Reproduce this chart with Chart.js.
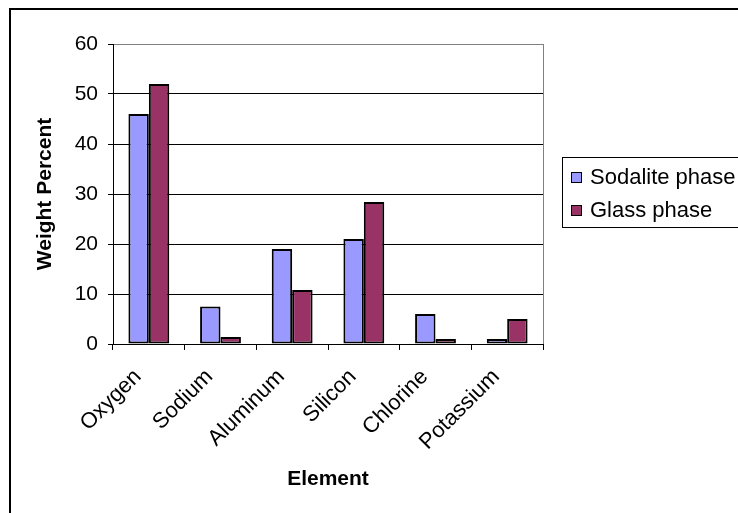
<!DOCTYPE html>
<html>
<head>
<meta charset="utf-8">
<script src="https://cdn.jsdelivr.net/npm/chart.js@4/dist/chart.umd.min.js"></script>
<style>
  html, body { margin: 0; padding: 0; background: #fff; }
  #wrap { width: 738px; height: 513px; position: relative; }
</style>
</head>
<body>
<div id="wrap"><canvas id="c" width="738" height="513"></canvas></div>
<script>
// Element composition (weight %) of the two phases
const elements = ['Oxygen', 'Sodium', 'Aluminum', 'Silicon', 'Chlorine', 'Potassium'];
const sodalitePhase = [46, 7.5, 19, 21, 6, 1];
const glassPhase = [52, 1.4, 10.8, 28.4, 1, 5];
const seriesNames = ['Sodalite phase', 'Glass phase'];
const seriesColors = ['#9999FF', '#993366'];
const yTicks = [0, 10, 20, 30, 40, 50, 60];

const FONT = '"Liberation Sans", Arial, sans-serif';

// Frame around the chart, gray plot-area edge and a boxed legend
const decorations = {
  id: 'decorations',
  afterDraw(chart) {
    const ctx = chart.ctx;
    const a = chart.chartArea;
    ctx.save();
    // plot area right edge
    ctx.strokeStyle = '#808080';
    ctx.lineWidth = 1;
    ctx.beginPath();
    ctx.moveTo(Math.round(a.right) + 0.5, a.top);
    ctx.lineTo(Math.round(a.right) + 0.5, a.bottom);
    ctx.stroke();

    // outer frame (left and top edges)
    ctx.fillStyle = '#000';
    ctx.fillRect(9, 8, 2, 505);
    ctx.fillRect(9, 8, 729, 2);

    // legend
    ctx.strokeStyle = '#000';
    ctx.lineWidth = 1;
    ctx.strokeRect(562.5, 157.5, 200, 70);
    ctx.font = '22px ' + FONT;
    ctx.textBaseline = 'middle';
    ctx.textAlign = 'left';
    chart.data.datasets.forEach((ds, i) => {
      const cy = 177 + i * 33;
      ctx.fillStyle = ds.backgroundColor;
      ctx.fillRect(571, cy - 5, 10, 10);
      ctx.strokeStyle = '#000';
      ctx.strokeRect(571.5, cy - 4.5, 10, 10);
      ctx.fillStyle = '#000';
      ctx.fillText(ds.label, 590, cy + 1);
    });
    ctx.restore();
  }
};

new Chart(document.getElementById('c'), {
  type: 'bar',
  data: {
    labels: elements,
    datasets: [
      { label: seriesNames[0], data: sodalitePhase, backgroundColor: seriesColors[0],
        borderColor: '#000', borderWidth: 2, borderSkipped: false },
      { label: seriesNames[1], data: glassPhase, backgroundColor: seriesColors[1],
        borderColor: '#000', borderWidth: 2, borderSkipped: false }
    ]
  },
  options: {
    responsive: false,
    animation: false,
    devicePixelRatio: 1,
    layout: { padding: { left: 33, top: 44, right: 195, bottom: 21 } },
    datasets: { bar: { categoryPercentage: 0.57, barPercentage: 1 } },
    plugins: { legend: { display: false }, tooltip: { enabled: false } },
    scales: {
      x: {
        afterFit(scale) { scale.height = 148; },
        grid: { drawOnChartArea: false, offset: true, tickLength: 6, color: '#000', tickColor: '#000' },
        border: { color: '#000', width: 1 },
        ticks: { color: '#000', font: { family: FONT, size: 22 }, minRotation: 45, maxRotation: 45,
                 padding: 14, labelOffset: -11 },
        title: { display: true, text: 'Element', color: '#000', padding: 0,
                 font: { family: FONT, size: 21, weight: 'bold' } }
      },
      y: {
        min: 0, max: 60,
        afterFit(scale) { scale.width = 80; },
        afterBuildTicks(scale) { scale.ticks = yTicks.map(v => ({ value: v })); },
        grid: {
          color: c => (c.tick && c.tick.value === 60) ? '#808080' : '#000',
          tickColor: '#000', tickLength: 5, lineWidth: 1
        },
        border: { color: '#000', width: 1 },
        ticks: { color: '#000', font: { family: FONT, size: 21 }, padding: 10 },
        title: { display: true, text: 'Weight Percent', color: '#000', padding: 0,
                 font: { family: FONT, size: 21, weight: 'bold' } }
      }
    }
  },
  plugins: [decorations]
});
</script>
</body>
</html>
